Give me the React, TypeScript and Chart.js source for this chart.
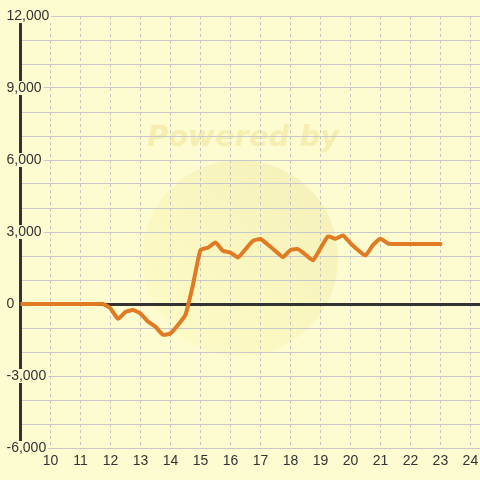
import { useEffect, useRef } from 'react';
import { Chart, registerables } from 'chart.js';

Chart.register(...registerables);

// Hour of day (x) and cumulative value (y)
const hours = [
  9, 10, 11, 11.5, 11.75, 12, 12.25, 12.5, 12.75, 13, 13.25, 13.5, 13.75, 14, 14.25, 14.5, 14.75,
  15, 15.25, 15.5, 15.75, 16, 16.25, 16.5, 16.75, 17, 17.25, 17.5, 17.75, 18, 18.25, 18.5, 18.75,
  19, 19.25, 19.5, 19.75, 20, 20.25, 20.5, 20.75, 21, 21.25, 21.5, 22, 22.5, 23,
];
const values = [
  0, 0, 0, 0, 0, -180, -620, -330, -250, -400, -730, -950, -1280, -1230, -880, -450, 800,
  2250, 2350, 2560, 2220, 2140, 1940, 2280, 2630, 2710, 2470, 2210, 1950, 2250, 2290, 2060, 1820,
  2320, 2820, 2720, 2860, 2530, 2250, 2020, 2450, 2720, 2520, 2500, 2500, 2500, 2500,
];
const xTickValues = [10, 11, 12, 13, 14, 15, 16, 17, 18, 19, 20, 21, 22, 23, 24];
const yLabelValues = [-6000, -3000, 0, 3000, 6000, 9000, 12000];

const BG = '#FCFCD0';
const FONT = '"Liberation Sans", Arial, sans-serif';

const background = {
  id: 'bgWatermark',
  beforeDraw(chart: any) {
    const { ctx, width, height } = chart;
    ctx.save();
    ctx.fillStyle = BG;
    ctx.fillRect(0, 0, width, height);
    const g = ctx.createLinearGradient(330, 170, 150, 350);
    g.addColorStop(0, 'rgba(236,222,150,0.40)');
    g.addColorStop(1, 'rgba(255,248,175,0.30)');
    ctx.beginPath();
    ctx.arc(240, 258, 98, 0, Math.PI * 2);
    ctx.fillStyle = g;
    ctx.fill();
    ctx.font = 'italic bold 29px "DejaVu Sans"';
    ctx.fillStyle = 'rgba(238,226,150,0.55)';
    ctx.textAlign = 'center';
    ctx.textBaseline = 'alphabetic';
    ctx.fillText('Powered by', 243, 146);
    ctx.restore();
  },
};

export default function App() {
  const ref = useRef<HTMLCanvasElement>(null);
  useEffect(() => {
    if (!ref.current) return;
    const chart = new Chart(ref.current, {
      type: 'line',
      data: {
        datasets: [
          {
            data: hours.map((h, i) => ({ x: h, y: values[i] })),
            borderColor: '#E07B24',
            borderWidth: 4,
            pointRadius: 0,
            tension: 0.15,
            borderJoinStyle: 'round',
            borderCapStyle: 'round',
            fill: false,
          },
        ],
      },
      options: {
        animation: false,
        responsive: false,
        layout: { padding: { top: 16, left: 4, right: 0, bottom: 0 } },
        plugins: { legend: { display: false }, tooltip: { enabled: false } },
        scales: {
          x: {
            type: 'linear',
            min: 9,
            max: 24.32,
            afterBuildTicks: (s: any) => {
              s.ticks = xTickValues.map((v) => ({ value: v }));
            },
            afterFit: (s: any) => {
              s.height = 32;
              s.paddingLeft = 0;
              s.paddingRight = 0;
            },
            grid: { color: '#C4C4C4', lineWidth: 1, drawTicks: false, z: -1 },
            border: { display: false, dash: [3, 3] },
            ticks: {
              autoSkip: false,
              maxRotation: 0,
              padding: 5,
              color: '#333333',
              font: { family: FONT, size: 14 },
              callback: (v: any) => String(v),
            },
          },
          y: {
            type: 'linear',
            min: -6000,
            max: 12000,
            afterFit: (s: any) => {
              s.width = 16.5;
            },
            grid: {
              drawTicks: false,
              color: (c: any) => (c.tick && c.tick.value === 0 ? '#333333' : '#C8C8CC'),
              lineWidth: (c: any) => (c.tick && c.tick.value === 0 ? 3 : 1),
            },
            border: { display: true, color: '#333333', width: 3 },
            ticks: {
              stepSize: 1000,
              autoSkip: false,
              mirror: true,
              crossAlign: 'near',
              padding: -14,
              color: '#333333',
              font: { family: FONT, size: 14, lineHeight: 1 },
              showLabelBackdrop: (c: any) => yLabelValues.includes(c.tick?.value),
              backdropColor: BG,
              backdropPadding: { top: 0, bottom: 0, left: 2, right: 2 },
              callback: (v: any) =>
                yLabelValues.includes(Number(v)) ? Number(v).toLocaleString('en-US') : '',
            },
          },
        },
      },
      plugins: [background],
    } as any);
    return () => chart.destroy();
  }, []);
  return (
    <div style={{ position: 'absolute', left: 0, top: 0, width: 480, height: 480 }}>
      <canvas ref={ref} width={480} height={480} />
    </div>
  );
}
